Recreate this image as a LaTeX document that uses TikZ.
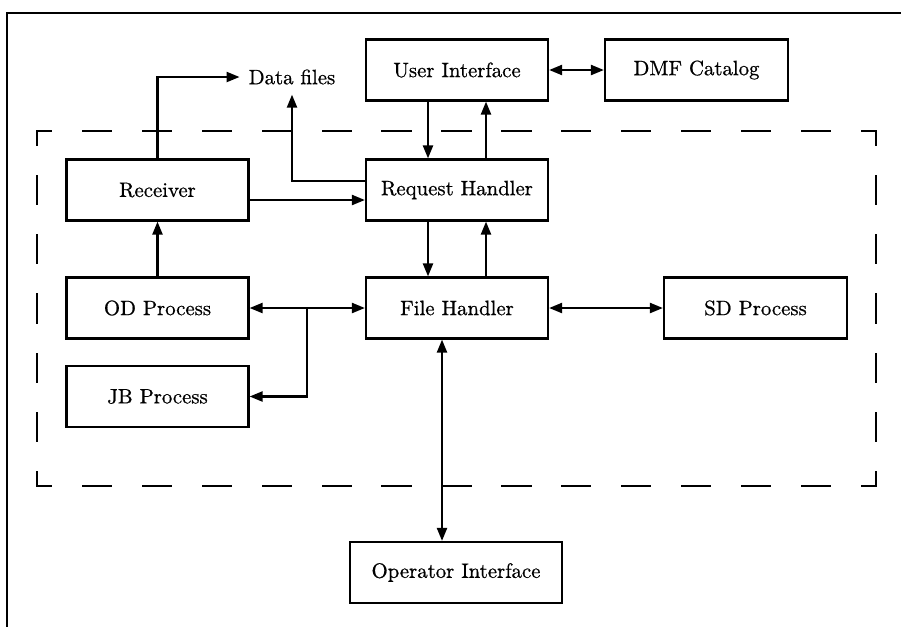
\documentclass[tikz,border=0pt]{standalone}
\usepackage{graphicx}
\usepackage{fontspec}
\newfontfamily\heavyfont{Latin Modern Roman}[FakeBold=0.7]
\usetikzlibrary{arrows.meta,calc}
\newcommand{\bigtxt}[1]{\scalebox{2.08}{\heavyfont\fontsize{10}{12}\selectfont #1}}
\tikzset{
  box/.style={draw, line width=2.2pt, minimum width=182pt, minimum height=61pt, inner sep=0pt},
  tip/.tip={Triangle[length=13pt,width=10pt]},
  arr/.style={line width=2.2pt, -tip},
  arrtwo/.style={line width=2.2pt, tip-tip},
  dashh/.style={line width=2.2pt, line cap=rect, dash pattern=on 28pt off 31.93pt, dash phase=14pt},
  dashv/.style={line width=2.2pt, line cap=rect, dash pattern=on 28pt off 31.17pt, dash phase=14pt},
  frame/.style={line width=2.2pt}
}
\begin{document}
\begin{tikzpicture}[x=1pt,y=-1pt]
\useasboundingbox (0,0) rectangle (901,627);
% outer frame (top and left only)
\draw[frame] (901,13) -- (7,13) -- (7,627);
% dashed boundary
\coordinate (tl) at (37,131);
\coordinate (tr) at (876,131);
\coordinate (bl) at (37,486);
\coordinate (brr) at (876,486);
\draw[dashh] (tl) -- (tr);
\draw[dashh] (bl) -- (brr);
\draw[dashv] (tl) -- (bl);
\draw[dashv] (tr) -- (brr);
% nodes
\node[box] (ui) at (457,70) {\bigtxt{User Interface}};
\node[box, minimum width=183pt] (dmf) at (696.5,70) {\bigtxt{DMF Catalog}};
\node[inner xsep=9pt, inner ysep=10pt] (df) at (292,77) {\bigtxt{Data files}};
\node[box] (rec) at (157.5,190) {\bigtxt{Receiver}};
\node[box] (rh) at (457,190) {\bigtxt{Request Handler}};
\node[box] (od) at (157.5,308) {\bigtxt{OD Process}};
\node[box] (fh) at (457,308) {\bigtxt{File Handler}};
\node[box] (jb) at (157.5,396.5) {\bigtxt{JB Process}};
\node[box, minimum width=183pt] (sd) at (755.5,308) {\bigtxt{SD Process}};
\node[box, minimum width=212pt] (op) at (456,572.5) {\bigtxt{Operator Interface}};
\coordinate (br) at (307,308);
% connectors
\draw[arrtwo] (ui.east) -- (dmf.west);
\draw[arr] (rec.north) |- (df.west);
\draw[arr] ([yshift=9pt]rh.west) -| (df.south);
\draw[arr] ([yshift=-10pt]rec.east) -- ([yshift=-10pt]rh.west);
\draw[arr] ([xshift=-29pt]ui.south) -- ([xshift=-29pt]rh.north);
\draw[arr] ([xshift=29pt]rh.north) -- ([xshift=29pt]ui.south);
\draw[arr] ([xshift=-29pt]rh.south) -- ([xshift=-29pt]fh.north);
\draw[arr] ([xshift=29pt]fh.north) -- ([xshift=29pt]rh.south);
\draw[arr] (od.north) -- (rec.south);
\draw[arrtwo] (od.east) -- (fh.west);
\draw[arr] (br) |- (jb.east);
\draw[arrtwo] (fh.east) -- (sd.west);
\draw[arrtwo] ([xshift=-15pt]fh.south) -- ([xshift=-15pt]fh.south |- op.north);
\end{tikzpicture}
\end{document}
